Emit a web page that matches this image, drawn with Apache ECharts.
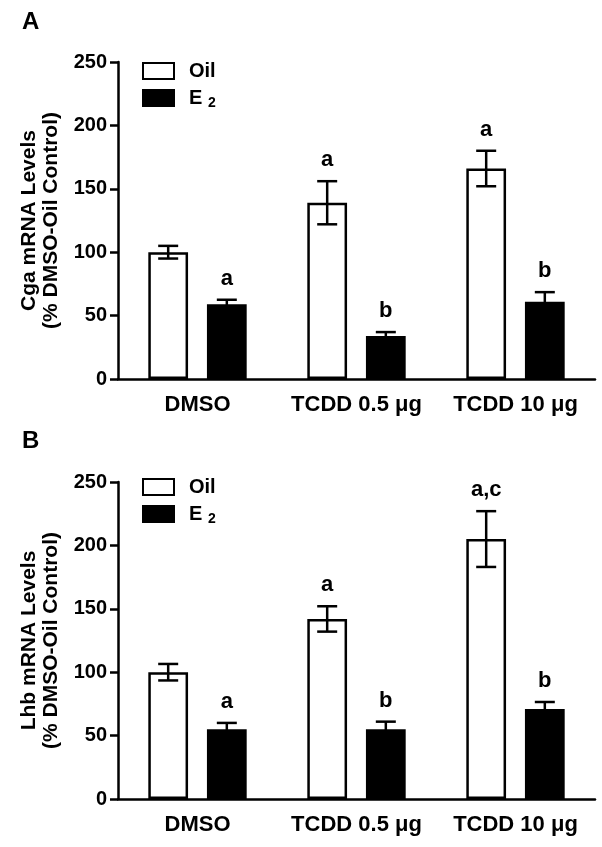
<!DOCTYPE html>
<html>
<head>
<meta charset="utf-8">
<script src="https://cdn.jsdelivr.net/npm/echarts@6/dist/echarts.min.js"></script>
<style>html,body{margin:0;padding:0;background:#fff;}#chart{width:602px;height:847px;}</style>
</head>
<body>
<div id="chart"></div>
<script>
const categories = ['DMSO', 'TCDD 0.5 \u03bcg', 'TCDD 10 \u03bcg'];
const yTicks = [0, 50, 100, 150, 200, 250];

// Panel A: Cga
const cgaOilMean = [100, 139, 166];
const cgaOilSem = [5, 17, 14];
const cgaE2Mean = [59, 34, 61];
const cgaE2Sem = [3.5, 3, 7.5];
const cgaOilLetters = ['', 'a', 'a'];
const cgaE2Letters = ['a', 'b', 'b'];

// Panel B: Lhb
const lhbOilMean = [100, 142, 205];
const lhbOilSem = [6.5, 10, 22];
const lhbE2Mean = [55, 55, 71];
const lhbE2Sem = [5, 6, 5.5];
const lhbOilLetters = ['', 'a', 'a,c'];
const lhbE2Letters = ['a', 'b', 'b'];

const FONT = '"Liberation Sans", Arial, sans-serif';
const BAR_W = 0.25, BAR_GAP = 0.475;

function errSeries(means, sems, letters, side, gi) {
  return {
    type: 'custom', xAxisIndex: gi, yAxisIndex: gi, z: 10, silent: true,
    data: means.map((m, i) => [i, m, sems[i]]),
    renderItem: function (params, api) {
      const i = api.value(0), m = api.value(1), s = api.value(2);
      const band = api.size([1, 0])[0];
      const bw = band * BAR_W;
      const off = side * (bw + bw * BAR_GAP) / 2;
      const x = api.coord([i, m])[0] + off;
      const yTop = api.coord([i, m + s])[1];
      const yBot = api.coord([i, m - s])[1];
      const cap = 10;
      const ls = { stroke: '#000', lineWidth: 2.5 };
      const children = [
        { type: 'line', shape: { x1: x, y1: yTop, x2: x, y2: yBot }, style: ls },
        { type: 'line', shape: { x1: x - cap, y1: yTop, x2: x + cap, y2: yTop }, style: ls },
        { type: 'line', shape: { x1: x - cap, y1: yBot, x2: x + cap, y2: yBot }, style: ls }
      ];
      const lt = letters[params.dataIndex];
      if (lt) {
        children.push({ type: 'text', x: x, y: yTop - 10,
          style: { text: lt, fill: '#000', font: 'bold 22px ' + FONT, align: 'center', verticalAlign: 'bottom' } });
      }
      return { type: 'group', children: children };
    }
  };
}

function barSeries(name, vals, fill, gi) {
  return {
    name: name, type: 'bar', xAxisIndex: gi, yAxisIndex: gi,
    data: vals, barWidth: (BAR_W * 100) + '%', barGap: (BAR_GAP * 100) + '%',
    itemStyle: { color: fill, borderColor: '#000', borderWidth: 2.5 },
    emphasis: { disabled: true }, animation: false
  };
}

function xAxis(gi) {
  return {
    type: 'category', gridIndex: gi, data: categories,
    axisLine: { lineStyle: { color: '#000', width: 2.5 } },
    axisTick: { show: false },
    axisLabel: { color: '#000', fontSize: 22, fontWeight: 'bold', fontFamily: FONT, margin: 15, interval: 0 }
  };
}

function yAxis(gi, title) {
  return {
    type: 'value', gridIndex: gi, min: yTicks[0], max: yTicks[yTicks.length - 1], interval: 50,
    name: title, nameLocation: 'middle', nameRotate: 90, nameGap: 56,
    nameTextStyle: { color: '#000', fontSize: 21, fontWeight: 'bold', fontFamily: FONT, lineHeight: 22 },
    axisLine: { show: true, lineStyle: { color: '#000', width: 2.5 } },
    axisTick: { show: true, length: 8, lineStyle: { color: '#000', width: 2.5 } },
    splitLine: { show: false },
    axisLabel: { color: '#000', fontSize: 20, fontWeight: 'bold', fontFamily: FONT, margin: 11 }
  };
}

function legend(top) {
  return {
    orient: 'vertical', left: 142, top: top, padding: 0, itemWidth: 31, itemHeight: 16, itemGap: 7,
    icon: 'rect',
    data: ['Oil', 'E2'], selectedMode: false,
    formatter: function (n) { return n === 'E2' ? 'E {sub|2}' : n; },
    textStyle: { color: '#000', fontSize: 20, fontWeight: 'bold', fontFamily: FONT, padding: [0, 0, 0, 10],
      rich: { sub: { fontSize: 14, fontWeight: 'bold', fontFamily: FONT, padding: [10, 0, 0, 0] } } }
  };
}

const option = {
  backgroundColor: '#fff',
  animation: false,
  title: [
    { text: 'A', left: 17, top: 5, textStyle: { fontSize: 24, fontWeight: 'bold', fontFamily: FONT, color: '#000' } },
    { text: 'B', left: 17, top: 424, textStyle: { fontSize: 24, fontWeight: 'bold', fontFamily: FONT, color: '#000' } }
  ],
  legend: [legend(61), legend(477)],
  grid: [
    { left: 118, right: 7, top: 62, height: 317 },
    { left: 118, right: 7, top: 482, height: 317 }
  ],
  xAxis: [xAxis(0), xAxis(1)],
  yAxis: [yAxis(0, 'Cga mRNA Levels\n(% DMSO-Oil Control)'), yAxis(1, 'Lhb mRNA Levels\n(% DMSO-Oil Control)')],
  series: [
    barSeries('Oil', cgaOilMean, '#fff', 0),
    barSeries('E2', cgaE2Mean, '#000', 0),
    errSeries(cgaOilMean, cgaOilSem, cgaOilLetters, -1, 0),
    errSeries(cgaE2Mean, cgaE2Sem, cgaE2Letters, 1, 0),
    barSeries('Oil', lhbOilMean, '#fff', 1),
    barSeries('E2', lhbE2Mean, '#000', 1),
    errSeries(lhbOilMean, lhbOilSem, lhbOilLetters, -1, 1),
    errSeries(lhbE2Mean, lhbE2Sem, lhbE2Letters, 1, 1)
  ]
};
const chart = echarts.init(document.getElementById('chart'), null, { renderer: 'canvas' });
chart.setOption(option);
</script>
</body>
</html>
